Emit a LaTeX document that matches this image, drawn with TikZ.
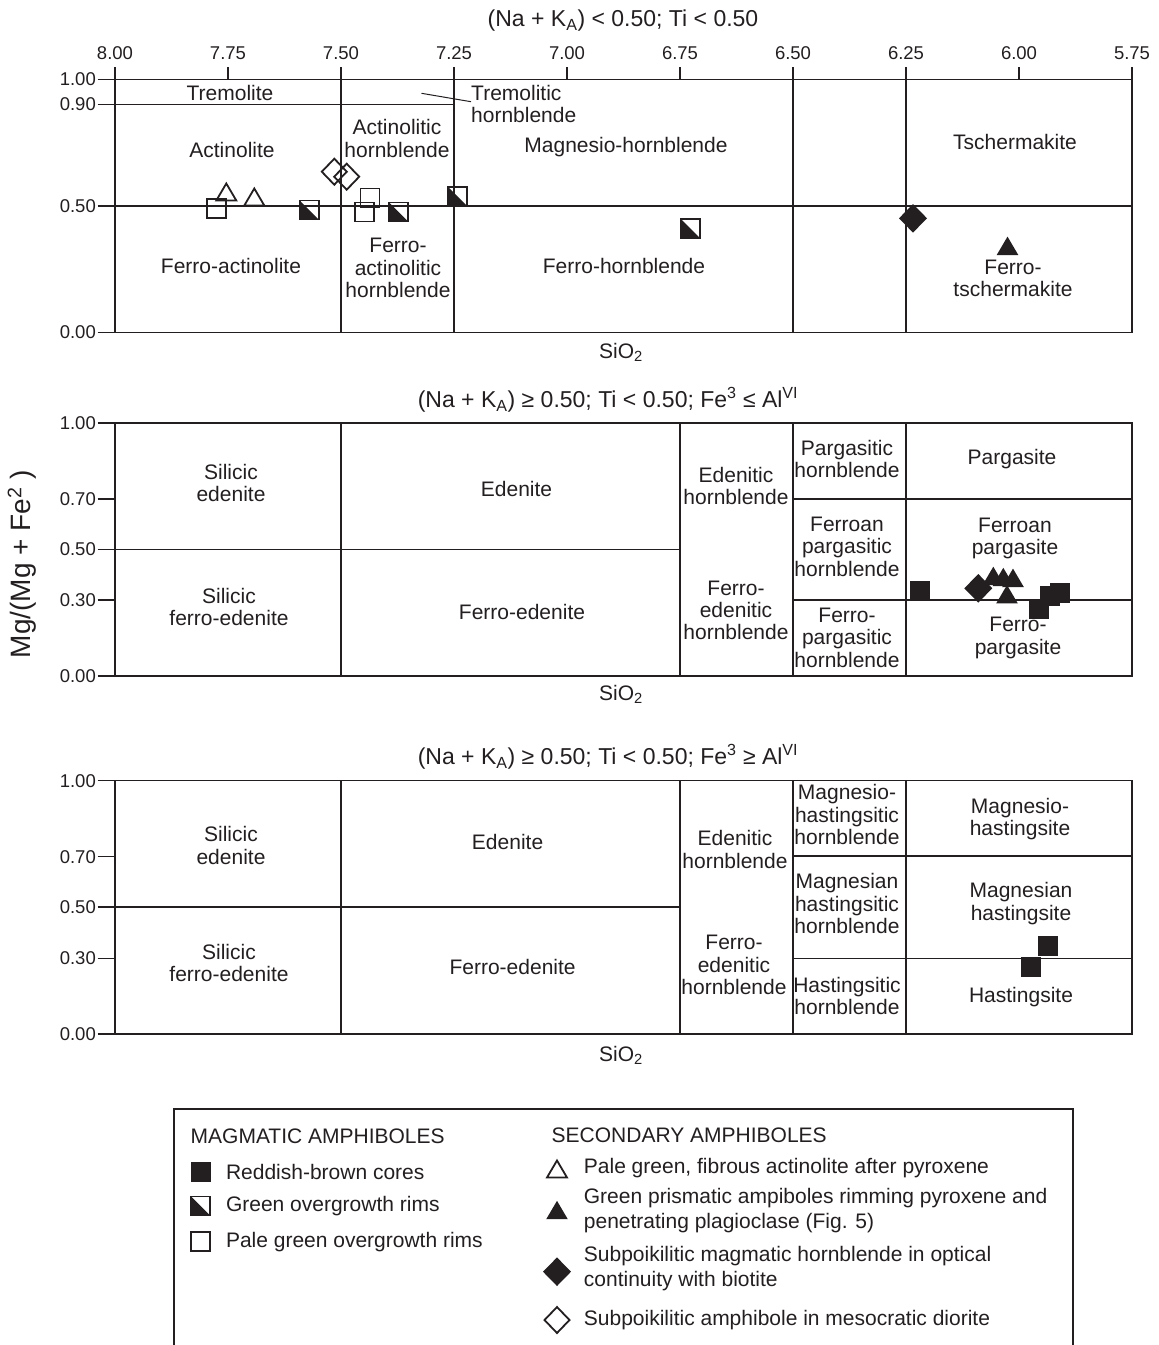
\documentclass[tikz,border=0pt]{standalone}
\usepackage{fontspec}
\setmainfont{Liberation Sans}
\definecolor{ink}{RGB}{35,31,32}
\tikzset{
  gridln/.style={draw=ink, line width=1.5pt},
  lbl/.style={inner sep=0pt, align=center, font=\fontsize{21}{22.4}\selectfont, text=ink},
  ticklbl/.style={inner sep=0pt, font=\fontsize{18.5}{20}\selectfont, text=ink},
  ttl/.style={inner sep=0pt, font=\fontsize{23}{25}\selectfont, text=ink},
  leglbl/.style={inner sep=0pt, anchor=west, align=left, font=\fontsize{21}{24.5}\selectfont, text=ink},
  mk/.style={draw=ink, line width=1.8pt, line join=miter},
}
\newcommand{\mkOsq}[2]{\draw[mk,shift={(#1,#2)}] (-9.5,-9.5) rectangle (9.5,9.5);}
\newcommand{\mkFsq}[2]{\fill[ink,shift={(#1,#2)}] (-10,-10) rectangle (10,10);}
\newcommand{\mkHsq}[2]{\fill[ink,shift={(#1,#2)}] (-9.5,-9.5) -- (-9.5,9.5) -- (9.5,9.5) -- cycle;
  \draw[mk,shift={(#1,#2)}] (-9.5,-9.5) rectangle (9.5,9.5);}
\newcommand{\mkOtri}[2]{\draw[mk,shift={(#1,#2)}] (0,-8.5) -- (-10,8.5) -- (10,8.5) -- cycle;}
\newcommand{\mkFtri}[2]{\fill[ink,shift={(#1,#2)}] (0,-9.2) -- (-10.8,9.2) -- (10.8,9.2) -- cycle;}
\newcommand{\mkFdia}[2]{\fill[ink,shift={(#1,#2)}] (0,-14.3) -- (14,0) -- (0,14.3) -- (-14,0) -- cycle;}
\newcommand{\mkOdia}[2]{\draw[mk,shift={(#1,#2)}] (0,-13) -- (12.5,0) -- (0,13) -- (-12.5,0) -- cycle;}
\begin{document}
\begin{tikzpicture}[x=1pt,y=-1pt]
\useasboundingbox (0,0) rectangle (1159,1345);

% ================= Panel 1 =================
\node[ttl] (title1) at (623,21) {(Na + K\textsubscript{A}) < 0.50; Ti < 0.50};
\draw[gridln] (115,79.3) rectangle (1132,332.3);
\draw[gridln] (115,104.6) -- (454,104.6);
\draw[gridln] (115,205.8) -- (1132,205.8);
\foreach \xx in {341,454,793,906} {\draw[gridln] (\xx,79.3) -- (\xx,332.3);}
\foreach \k/\t in {0/8.00,1/7.75,2/7.50,3/7.25,4/7.00,5/6.75,6/6.50,7/6.25,8/6.00,9/5.75} {
  \draw[gridln] (115+113*\k,79.3) -- (115+113*\k,66.7);
  \node[ticklbl] (top\k) at (115+113*\k,53.3) {\t};
}
\foreach \yy/\t/\n in {79.3/1.00/a,104.6/0.90/b,205.8/0.50/c,332.3/0.00/d} {
  \draw[gridln] (97.7,\yy) -- (115,\yy);
  \node[ticklbl,anchor=east] (la\n) at (96,\yy) {\t};
}
\node[lbl] (tremolite) at (230,92.7) {Tremolite};
\node[lbl,anchor=west,align=left] (tremhb) at (471,103.9) {Tremolitic\\hornblende};
\coordinate (lead1) at (421.5,93.3);
\draw[ink,line width=1pt] (lead1) -- (tremhb.west |- 0,101.7);
\node[lbl] (actinolite) at (232,150) {Actinolite};
\node[lbl] (acthb) at (397,138.3) {Actinolitic\\hornblende};
\node[lbl] (maghb) at (626,146.7) {Magnesio-hornblende};
\node[lbl] (tsch) at (1015,141.7) {Tschermakite};
\node[lbl] (feact) at (231,265.7) {Ferro-actinolite};
\node[lbl] (feacthb) at (398,268) {Ferro-\\actinolitic\\hornblende};
\node[lbl] (fehb) at (624,265.7) {Ferro-hornblende};
\node[lbl] (fetsch) at (1013,278.3) {Ferro-\\tschermakite};
\node[lbl] (sio1) at (621,352) {SiO\textsubscript{2}};

\mkOsq{216.3}{208.8}
\mkOtri{226.3}{192}
\mkOtri{254.3}{197}
\mkHsq{309.2}{210}
\mkOdia{334.3}{171.7}
\mkOdia{346.7}{176.7}
\mkOsq{370}{198}
\mkOsq{364.5}{212}
\mkHsq{398.7}{212}
\mkHsq{457.5}{196.3}
\mkHsq{690.3}{228.3}
\mkFdia{913}{218.3}
\mkFtri{1007.5}{245.8}

% ================= Panel 2 =================
\node[ttl] (title2) at (608,400) {(Na + K\textsubscript{A}) ≥ 0.50; Ti < 0.50; Fe\textsuperscript{3} ≤ Al\textsuperscript{VI}};
\draw[gridln] (115,423) rectangle (1132,676);
\foreach \xx in {341,680,793,906} {\draw[gridln] (\xx,423) -- (\xx,676);}
\draw[gridln] (115,549.5) -- (680,549.5);
\draw[gridln] (793,498.9) -- (1132,498.9);
\draw[gridln] (793,600.1) -- (1132,600.1);
\foreach \yy/\t/\n in {423/1.00/a,498.9/0.70/b,549.5/0.50/c,600.1/0.30/d,676/0.00/e} {
  \draw[gridln] (97.7,\yy) -- (115,\yy);
  \node[ticklbl,anchor=east] (lb\n) at (96,\yy) {\t};
}
\node[lbl] (silede2) at (231,482.8) {Silicic\\edenite};
\node[lbl] (edenite2) at (516.5,489) {Edenite};
\node[lbl] (silfeede2) at (229,607) {Silicic\\ferro-edenite};
\node[lbl] (feede2) at (522,611.7) {Ferro-edenite};
\node[lbl] (edhb2) at (736,485.7) {Edenitic\\hornblende};
\node[lbl] (feedhb2) at (736,610.3) {Ferro-\\edenitic\\hornblende};
\node[lbl] (parhb) at (847,458.7) {Pargasitic\\hornblende};
\node[lbl] (pargasite) at (1012,459) {Pargasite};
\node[lbl] (feanparhb) at (847,546.7) {Ferroan\\pargasitic\\hornblende};
\node[lbl] (feanpar) at (1015,538.7) {Ferroan\\pargasite};
\node[lbl] (feparhb) at (847,637.7) {Ferro-\\pargasitic\\hornblende};
\node[lbl] (fepar) at (1018,638) {Ferro-\\pargasite};
\node[lbl] (sio2) at (621,694) {SiO\textsubscript{2}};

\mkFsq{920}{591}
\mkFdia{978.3}{588.3}
\mkFtri{993.3}{575.9}
\mkFtri{1003.3}{577}
\mkFtri{1013}{577.8}
\mkFtri{1007}{594.2}
\mkFsq{1038.7}{609}
\mkFsq{1050.3}{596}
\mkFsq{1059.7}{593.3}

% ================= Panel 3 =================
\node[ttl] (title3) at (608,756.7) {(Na + K\textsubscript{A}) ≥ 0.50; Ti < 0.50; Fe\textsuperscript{3} ≥ Al\textsuperscript{VI}};
\draw[gridln] (115,780.7) rectangle (1132,1034);
\foreach \xx in {341,680,793,906} {\draw[gridln] (\xx,780.7) -- (\xx,1034);}
\draw[gridln] (115,907) -- (680,907);
\draw[gridln] (793,856.2) -- (1132,856.2);
\draw[gridln] (793,958.5) -- (1132,958.5);
\foreach \yy/\t/\n in {780.7/1.00/a,856.7/0.70/b,907/0.50/c,958.5/0.30/d,1034/0.00/e} {
  \draw[gridln] (97.7,\yy) -- (115,\yy);
  \node[ticklbl,anchor=east] (lc\n) at (96,\yy) {\t};
}
\node[lbl] (silede3) at (231,845.3) {Silicic\\edenite};
\node[lbl] (edenite3) at (507.6,841.7) {Edenite};
\node[lbl] (silfeede3) at (229,962.8) {Silicic\\ferro-edenite};
\node[lbl] (feede3) at (512.6,966.7) {Ferro-edenite};
\node[lbl] (edhb3) at (735,849.3) {Edenitic\\hornblende};
\node[lbl] (feedhb3) at (734,965.1) {Ferro-\\edenitic\\hornblende};
\node[lbl] (mghshb) at (847,814.7) {Magnesio-\\hastingsitic\\hornblende};
\node[lbl] (mghs) at (1020,819.2) {Magnesio-\\hastingsite};
\node[lbl] (mgnhshb) at (847,903.6) {Magnesian\\hastingsitic\\hornblende};
\node[lbl] (mgnhs) at (1021,903.7) {Magnesian\\hastingsite};
\node[lbl] (hshb) at (847,996.2) {Hastingsitic\\hornblende};
\node[lbl] (hs) at (1021,996.7) {Hastingsite};
\node[lbl] (sio3) at (621,1055) {SiO\textsubscript{2}};

\mkFsq{1047.7}{945.7}
\mkFsq{1031}{966.7}

% y axis label
\node[inner sep=0pt, rotate=90, text=ink, font=\fontsize{28}{30}\selectfont] (ylab) at (22,564) {Mg/(Mg + Fe\textsuperscript{2} )};

% ================= Legend =================
\draw[gridln] (174,1350) |- (1073,1109) -- (1073,1350);
\node[leglbl] (magh) at (190.5,1136.7) {MAGMATIC AMPHIBOLES};
\mkFsq{200.7}{1172.3}
\node[leglbl] (leg1) at (225.8,1172.3) {Reddish-brown cores};
\mkHsq{200.7}{1206}
\node[leglbl] (leg2) at (225.8,1205.7) {Green overgrowth rims};
\mkOsq{200.7}{1241.7}
\node[leglbl] (leg3) at (225.8,1241.7) {Pale green overgrowth rims};
\node[leglbl] (sech) at (551.5,1135) {SECONDARY AMPHIBOLES};
\mkOtri{557}{1169}
\node[leglbl] (leg4) at (583.7,1168.3) {Pale green, fibrous actinolite after pyroxene};
\mkFtri{557}{1210}
\node[leglbl] (leg5) at (583.7,1210.8) {Green prismatic ampiboles rimming pyroxene and\\penetrating plagioclase (Fig. 5)};
\mkFdia{557}{1271.7}
\node[leglbl] (leg6) at (583.7,1268.8) {Subpoikilitic magmatic hornblende in optical\\continuity with biotite};
\mkOdia{557}{1320}
\node[leglbl] (leg7) at (583.7,1320) {Subpoikilitic amphibole in mesocratic diorite};
\end{tikzpicture}
\end{document}
